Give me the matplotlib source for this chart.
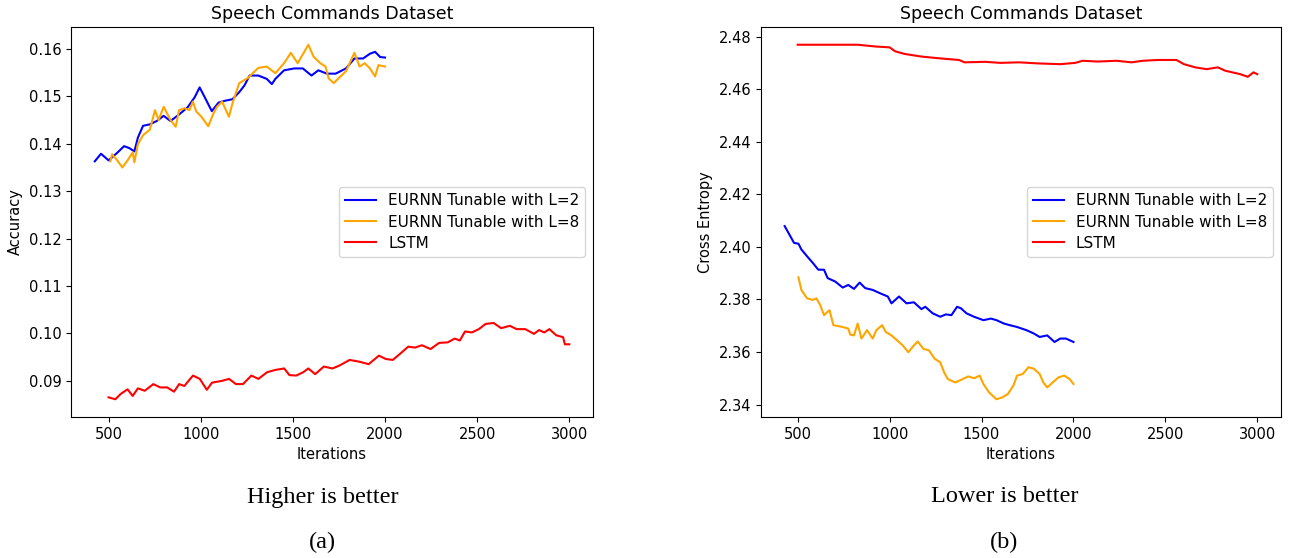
import matplotlib.pyplot as plt

# ---- (a) accuracy ----
acc_l2_x = [425, 459, 500, 547, 584, 612, 640, 659, 687, 724, 761, 799, 836, 883, 929,
            967, 994, 1022, 1060, 1097, 1134, 1172, 1209, 1237, 1265, 1312, 1358, 1386,
            1405, 1452, 1508, 1554, 1601, 1638, 1685, 1732, 1788, 1834, 1881, 1918,
            1946, 1974, 2000]
acc_l2_y = [0.1363, 0.1379, 0.1365, 0.1381, 0.1395, 0.1391, 0.1384, 0.1413, 0.1438,
            0.1441, 0.1448, 0.1459, 0.1448, 0.1462, 0.1477, 0.1498, 0.1519, 0.1498,
            0.1469, 0.1487, 0.1491, 0.1494, 0.1509, 0.1523, 0.1544, 0.1544, 0.1537,
            0.1526, 0.1537, 0.1555, 0.1559, 0.1559, 0.1544, 0.1555, 0.1548, 0.1548,
            0.1559, 0.1580, 0.1580, 0.1590, 0.1594, 0.1583, 0.1582]

acc_l8_x = [509, 519, 547, 575, 603, 631, 640, 659, 687, 724, 752, 771, 799, 836, 864,
            883, 911, 939, 957, 976, 1004, 1041, 1069, 1088, 1116, 1153, 1172, 1209,
            1256, 1312, 1358, 1405, 1452, 1489, 1526, 1584, 1612, 1649, 1677, 1694,
            1722, 1750, 1788, 1834, 1862, 1890, 1918, 1946, 1964, 2000]
acc_l8_y = [0.1363, 0.1378, 0.1365, 0.1350, 0.1365, 0.1382, 0.1361, 0.1399, 0.1418,
            0.1430, 0.1471, 0.1450, 0.1478, 0.1450, 0.1436, 0.1471, 0.1475, 0.1471,
            0.1489, 0.1468, 0.1457, 0.1437, 0.1464, 0.1478, 0.1489, 0.1457, 0.1485,
            0.1528, 0.1539, 0.1560, 0.1563, 0.1549, 0.1570, 0.1592, 0.1570, 0.1609,
            0.1584, 0.1570, 0.1563, 0.1538, 0.1528, 0.1539, 0.1553, 0.1592, 0.1563,
            0.1570, 0.1559, 0.1542, 0.1566, 0.1563]

acc_lstm_x = [500, 537, 565, 603, 631, 659, 696, 743, 780, 818, 855, 883, 911, 958, 995,
              1033, 1061, 1117, 1154, 1191, 1229, 1275, 1313, 1360, 1406, 1453, 1481,
              1518, 1556, 1584, 1621, 1668, 1715, 1752, 1808, 1864, 1911, 1967, 2004,
              2042, 2079, 2126, 2163, 2200, 2247, 2294, 2340, 2378, 2406, 2434, 2471,
              2509, 2546, 2589, 2630, 2677, 2714, 2761, 2808, 2836, 2864, 2892, 2929,
              2966, 2976, 3000]
acc_lstm_y = [0.0865, 0.0861, 0.0872, 0.0882, 0.0868, 0.0884, 0.0879, 0.0893, 0.0886,
              0.0886, 0.0877, 0.0893, 0.0889, 0.0911, 0.0904, 0.0881, 0.0896, 0.0900,
              0.0904, 0.0893, 0.0893, 0.0911, 0.0904, 0.0918, 0.0923, 0.0926, 0.0912,
              0.0911, 0.0918, 0.0926, 0.0914, 0.0930, 0.0926, 0.0932, 0.0944, 0.0940,
              0.0935, 0.0953, 0.0946, 0.0944, 0.0956, 0.0972, 0.0970, 0.0975, 0.0967,
              0.0980, 0.0981, 0.0989, 0.0985, 0.1004, 0.1002, 0.1009, 0.1020, 0.1022,
              0.1011, 0.1016, 0.1009, 0.1009, 0.0999, 0.1007, 0.1002, 0.1009, 0.0996,
              0.0992, 0.0977, 0.0977]

# ---- (b) cross entropy ----
ce_l2_x = [429, 449, 480, 504, 520, 551, 582, 612, 643, 663, 704, 745, 775, 806, 837,
           867, 908, 949, 990, 1010, 1051, 1092, 1132, 1173, 1194, 1234, 1275, 1306,
           1336, 1367, 1388, 1418, 1459, 1510, 1551, 1581, 1622, 1653, 1693, 1744,
           1785, 1816, 1857, 1897, 1928, 1959, 2000]
ce_l2_y = [2.4079, 2.4054, 2.4015, 2.4012, 2.3990, 2.3964, 2.3939, 2.3913, 2.3913,
           2.3881, 2.3868, 2.3845, 2.3855, 2.3840, 2.3864, 2.3843, 2.3836, 2.3823,
           2.3811, 2.3785, 2.3811, 2.3785, 2.3789, 2.3763, 2.3772, 2.3747, 2.3734,
           2.3743, 2.3740, 2.3772, 2.3766, 2.3747, 2.3734, 2.3721, 2.3727, 2.3721,
           2.3708, 2.3702, 2.3695, 2.3683, 2.3670, 2.3657, 2.3663, 2.3638, 2.3651,
           2.3651, 2.3638]

ce_l8_x = [504, 520, 551, 582, 602, 622, 643, 673, 694, 745, 775, 786, 806, 826, 847,
           877, 908, 928, 959, 979, 1010, 1041, 1071, 1102, 1132, 1153, 1183, 1214,
           1245, 1275, 1296, 1316, 1357, 1398, 1428, 1459, 1490, 1510, 1541, 1581,
           1612, 1643, 1673, 1693, 1724, 1755, 1785, 1816, 1836, 1857, 1887, 1918,
           1949, 1979, 2000]
ce_l8_y = [2.3884, 2.3836, 2.3804, 2.3798, 2.3804, 2.3779, 2.3740, 2.3759, 2.3702,
           2.3695, 2.3689, 2.3666, 2.3663, 2.3708, 2.3651, 2.3683, 2.3651, 2.3683,
           2.3702, 2.3676, 2.3663, 2.3644, 2.3625, 2.3599, 2.3625, 2.3640, 2.3612,
           2.3606, 2.3574, 2.3561, 2.3523, 2.3497, 2.3484, 2.3497, 2.3507, 2.3500,
           2.3510, 2.3478, 2.3446, 2.3420, 2.3427, 2.3440, 2.3472, 2.3510, 2.3516,
           2.3542, 2.3536, 2.3516, 2.3484, 2.3465, 2.3484, 2.3503, 2.3510, 2.3497,
           2.3478]

ce_lstm_x = [500, 826, 928, 1000, 1030, 1081, 1173, 1275, 1377, 1408, 1520, 1602, 1704,
             1806, 1928, 2010, 2050, 2132, 2234, 2316, 2377, 2458, 2560, 2601, 2662,
             2724, 2785, 2826, 2907, 2948, 2979, 3000]
ce_lstm_y = [2.4769, 2.4769, 2.4762, 2.4759, 2.4744, 2.4734, 2.4724, 2.4717, 2.4711,
             2.4702, 2.4704, 2.4700, 2.4702, 2.4698, 2.4695, 2.4700, 2.4708, 2.4705,
             2.4708, 2.4702, 2.4708, 2.4711, 2.4711, 2.4695, 2.4683, 2.4676, 2.4683,
             2.4670, 2.4657, 2.4647, 2.4664, 2.4657]

labels = ['EURNN Tunable with L=2', 'EURNN Tunable with L=8', 'LSTM']
colors = ['blue', 'orange', 'red']

fig = plt.figure(figsize=(12.96, 5.58), dpi=100)
ax1 = fig.add_axes([0.0548, 0.2527, 0.4028, 0.6989])
ax2 = fig.add_axes([0.5872, 0.2527, 0.4012, 0.6989])

ax1.plot(acc_l2_x, acc_l2_y, color=colors[0], label=labels[0])
ax1.plot(acc_l8_x, acc_l8_y, color=colors[1], label=labels[1])
ax1.plot(acc_lstm_x, acc_lstm_y, color=colors[2], label=labels[2])
ax1.set_ylabel('Accuracy', fontsize=10.5)

ax2.plot(ce_l2_x, ce_l2_y, color=colors[0], label=labels[0])
ax2.plot(ce_l8_x, ce_l8_y, color=colors[1], label=labels[1])
ax2.plot(ce_lstm_x, ce_lstm_y, color=colors[2], label=labels[2])
ax2.set_ylabel('Cross Entropy', fontsize=10.5)

for ax in (ax1, ax2):
    ax.set_title('Speech Commands Dataset', fontsize=12.5)
    ax.set_xlabel('Iterations', fontsize=10.5)
    ax.set_xticks([500, 1000, 1500, 2000, 2500, 3000])
    ax.tick_params(labelsize=10.5)
    ax.legend(loc='center right', fontsize=11, labelspacing=0.4)

ax1.set_yticks([0.09, 0.10, 0.11, 0.12, 0.13, 0.14, 0.15, 0.16])
ax2.set_yticks([2.34, 2.36, 2.38, 2.40, 2.42, 2.44, 2.46, 2.48])

serif = ['Liberation Serif', 'DejaVu Serif']
fig.text(0.249, 1 - 497 / 558, 'Higher is better', ha='center', va='center',
         fontsize=17.5, family=serif)
fig.text(0.249, 1 - 542 / 558, '(a)', ha='center', va='center', fontsize=17.5, family=serif)
fig.text(0.775, 1 - 497 / 558, 'Lower is better', ha='center', va='center',
         fontsize=17.5, family=serif)
fig.text(0.775, 1 - 542 / 558, '(b)', ha='center', va='center', fontsize=17.5, family=serif)

fig.savefig('out.png', dpi=100)
